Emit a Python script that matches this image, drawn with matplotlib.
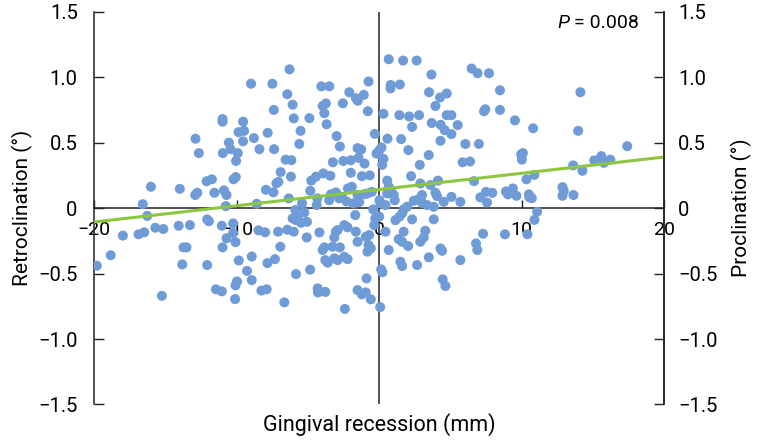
import numpy as np
import matplotlib
matplotlib.use("Agg")
import matplotlib.pyplot as plt

plt.rcParams['font.family'] = ['Roboto', 'DejaVu Sans']
plt.rcParams['axes.unicode_minus'] = True

# gingival recession (mm) vs incisor inclination change (deg)
recession = [
    -6.3, -9.0, -7.5, -6.45, -7.4, -11.0, -11.0, -9.56, -9.88, -9.49, -7.83, -12.9, -10.56, -8.8, -9.56,
    -10.44, -8.41, -7.38, -12.66, -10.98, -9.93, -10.05, -6.57, -6.17, -6.92, -10.07, -10.23, -11.75, -12.12,
    -7.22, -7.08, -16.03, -14.0, -12.77, -12.92, -11.57, -10.9, -10.72, -7.95, -7.43, -16.6, -10.77, -8.6,
    -6.35, -6.2, -16.29, -12.08, -11.96,
    -18.0, -16.9, -16.5, -15.72, -15.16, -14.08, -13.29, -11.05, -10.26, -10.26, -10.72, -10.09, -8.48, -8.01,
    -7.1, -6.45, -13.74, -13.53, -11.0, -6.94, -18.85, -8.95, -9.86, -7.32, -7.85, -19.83, -13.83, -12.08,
    -9.28, -8.95, -9.98, -10.09, -11.47, -11.05, -8.27, -7.9, -15.26, -10.12, -6.66,
    6.49, 6.91, 7.71, 8.48, 14.13, 7.36, 7.45, 8.48, 9.53, 10.81, 13.97, 7.0, 17.42, 6.38, 9.97, 10.09, 10.02,
    13.62, 14.27, 15.1, 15.6, 15.77, 16.23, 6.66, 10.34, 10.9, 7.5, 7.94, 7.1, 7.57, 8.9, 9.04, 9.39, 9.64,
    10.51, 10.55, 10.72, 12.87, 12.96, 12.87, 13.64, 11.09, 10.9, 10.41, 8.83, 7.29, 6.8, 6.89,
    -6.08, -6.0, -4.06, -3.5, -0.75, -3.97, -3.74, -3.85, -3.69, -4.9, -5.52, -5.61, -2.55, -2.1, -1.64, -1.5,
    -1.08, -0.8, -2.99, -2.76, -0.31, -1.52, -1.26, -0.19, -3.25, -2.52, -1.99, -1.45, -1.03,
    0.67, 1.68, 2.63, 3.67, 0.81, 0.79, 1.45, 3.5, 4.27, 4.74, 3.95, 0.3, 1.42, 2.1, 2.8, 4.74, 5.07, 3.69,
    4.32, 4.6, 5.07, 5.51, 2.31, 0.58, 1.54, 4.3, 6.05, 0.16, 0.02, 2.05, 3.48, 0.3, 5.86, 2.85,
    -1.99, -1.22, -0.66, -4.77, -4.44, -3.92, -3.43, -5.42, -4.35, -4.39, -3.51, -3.39, -3.04, -2.8, -2.62,
    -2.29, -2.2, -1.92, -1.82, -1.4, -1.52, -1.03, -0.82, -0.52, -0.42, -4.84,
    -5.89, -6.08, -5.73, -5.26, -5.07, -5.49, -5.84, -6.0, -5.09, -4.2, -3.04, -2.92, -3.15, -2.45, -2.22,
    -1.64, -1.68, -1.52, -0.94, -0.7, -0.35, -0.28, -0.75, -0.59, -0.82, -3.85, -3.97, -3.27, -2.76, -3.78,
    -3.62, -3.15, -2.92, -2.45, -2.22, -4.85,
    -5.84, -4.32, -4.3, -3.78, -2.41, -1.52, -1.22, -0.94, -0.89, -0.59, 0.07, 0.14, 0.23, 4.46, 4.65, 0.0,
    0.21, 2.24, 0.56, 0.67, 2.89, 3.6, 4.13, 0.56, 0.86, 1.02, 1.09, 0.02, 0.09, 0.44, 2.43, 2.73, 3.01, 3.01,
    3.95, 4.06, 3.36, 3.83, 4.53, 5.07, 5.7, 1.96, 1.72, 1.61, 1.42, 1.14, 2.31, 3.83, 0.44, 1.72, 3.24, 3.13,
    2.89, 1.37, 1.61, 2.03, 0.67, 4.3, 4.41, 3.48, 5.7, 1.49, 1.61, 2.66,
]
inclination = [
    1.06, 0.95, 0.95, 0.87, 0.75, 0.68, 0.66, 0.66, 0.58, 0.59, 0.575, 0.53, 0.50, 0.535, 0.51,
    0.45, 0.45, 0.45, 0.42, 0.42, 0.42, 0.36, 0.37, 0.366, 0.275, 0.237, 0.22, 0.22, 0.205,
    0.19, 0.20, 0.163, 0.147, 0.117, 0.10, 0.117, 0.135, 0.10, 0.14, 0.12, 0.03, 0.015, 0.033,
    0.074, 0.24, -0.06, -0.086, -0.10,
    -0.21, -0.20, -0.185, -0.15, -0.16, -0.135, -0.13, -0.135, -0.117, -0.19, -0.23, -0.26, -0.17, -0.185,
    -0.18, -0.165, -0.30, -0.30, -0.30, -0.295, -0.36, -0.37, -0.40, -0.39, -0.42, -0.44, -0.43, -0.435,
    -0.48, -0.55, -0.56, -0.59, -0.62, -0.636, -0.63, -0.62, -0.67, -0.695, -0.72,
    1.066, 1.03, 1.03, 0.90, 0.885, 0.74, 0.755, 0.75, 0.67, 0.61, 0.59, 0.49, 0.473, 0.356, 0.41, 0.42, 0.37,
    0.326, 0.285, 0.364, 0.397, 0.346, 0.37, 0.206, 0.22, 0.254, 0.124, 0.117, 0.082, 0.043, 0.127, 0.105,
    0.15, 0.094, 0.105, 0.082, 0.076, 0.16, 0.13, 0.094, 0.10, -0.028, -0.09, -0.20, -0.20, -0.196, -0.27, -0.32,
    0.79, 0.685, 0.93, 0.93, 0.967, 0.78, 0.80, 0.725, 0.64, 0.687, 0.59, 0.49, 0.80, 0.885, 0.84, 0.82,
    0.865, 0.74, 0.55, 0.47, 0.567, 0.458, 0.448, 0.417, 0.35, 0.36, 0.366, 0.384, 0.34,
    1.137, 1.127, 1.127, 1.02, 0.94, 0.914, 0.944, 0.885, 0.845, 0.875, 0.78, 0.72, 0.71, 0.70, 0.71, 0.71,
    0.71, 0.65, 0.636, 0.595, 0.565, 0.634, 0.62, 0.53, 0.527, 0.514, 0.49, 0.463, 0.443, 0.443, 0.405, 0.376,
    0.35, 0.33,
    0.27, 0.244, 0.25, 0.21, 0.24, 0.265, 0.247, 0.036, 0.074, 0.023, 0.06, 0.105, 0.12, 0.074, 0.086,
    0.05, 0.15, 0.163, 0.036, 0.046, 0.10, 0.107, 0.112, 0.124, -0.01, 0.132,
    -0.015, -0.079, -0.071, -0.033, -0.105, -0.112, -0.092, -0.18, -0.224, -0.186, -0.18, -0.168, -0.224,
    -0.13, -0.147, -0.18, -0.053, -0.257, -0.219, -0.206, -0.13, -0.079, -0.282, -0.308, -0.333, -0.30, -0.32,
    -0.295, -0.30, -0.397, -0.417, -0.384, -0.397, -0.372, -0.39, -0.47,
    -0.504, -0.613, -0.644, -0.64, -0.77, -0.626, -0.659, -0.644, -0.537, -0.697, -0.756, -0.468, -0.49,
    -0.544, -0.595, -0.065,
    0.33, 0.244, 0.21, 0.163, 0.188, 0.176, 0.21, 0.112, 0.124, 0.10, 0.06, 0.06, 0.036, 0.023, 0.056, 0.066,
    0.10, 0.04, 0.117, 0.092, 0.023, 0.01, 0.048, 0.086, 0.048, 0.01, -0.01, -0.04, -0.066, -0.092, -0.086,
    -0.086, -0.18, -0.18, -0.173, -0.224, -0.257, -0.237, -0.257, -0.29, -0.32, -0.308, -0.326, -0.376, -0.397,
    -0.41, -0.443, -0.435,
]

trend_intercept = 0.142
trend_slope = 0.0124
p_text = " = 0.008"

x_ticks = [-20, -10, 0, 10, 20]
x_labels = ["\u221220", "\u221210", "0", "10", "20"]
y_ticks = [-1.5, -1.0, -0.5, 0, 0.5, 1.0, 1.5]
y_labels = ["\u22121.5", "\u22121.0", "\u22120.5", "0", "0.5", "1.0", "1.5"]

dot_color = "#6f9bd6"
line_color = "#8dc63f"
ink = "#222222"

fig = plt.figure(figsize=(7.58, 4.40), dpi=100)
ax = fig.add_axes([0.1245, 0.0807, 0.7515, 0.8927])

ax.scatter(recession, inclination, s=52, color=dot_color, edgecolors="none", zorder=3)

fit_x = np.array([-20, 20])
ax.plot(fit_x, trend_intercept + trend_slope * fit_x, color=line_color, lw=2.2, zorder=4)

ax.set_xlim(-20, 20)
ax.set_ylim(-1.5, 1.5)

ax.spines["top"].set_visible(False)
ax.spines["bottom"].set_position(("data", 0))
for side in ["left", "right", "bottom"]:
    ax.spines[side].set_color(ink)
    ax.spines[side].set_linewidth(1.1)
ax.axvline(0, color=ink, lw=1.1, zorder=2)

ax.set_xticks(x_ticks)
ax.set_xticklabels(x_labels)
ax.tick_params(axis="x", direction="in", length=6, width=1, color=ink, pad=9, labelsize=14)

ax.set_yticks(y_ticks)
ax.set_yticklabels(y_labels)
ax.tick_params(axis="y", direction="in", length=7, width=1, color=ink, pad=12, labelsize=14.5)

ax2 = ax.twinx()
ax2.set_ylim(-1.5, 1.5)
ax2.set_yticks(y_ticks)
ax2.set_yticklabels(y_labels)
ax2.tick_params(axis="y", direction="in", length=7, width=1, color=ink, pad=10, labelsize=14.5)
for side in ["top", "bottom", "left"]:
    ax2.spines[side].set_visible(False)
ax2.spines["right"].set_color(ink)
ax2.spines["right"].set_linewidth(1.1)

ax.set_ylabel("Retroclination (\u00b0)", fontsize=15, labelpad=4)
ax2.set_ylabel("Proclination (\u00b0)", fontsize=15, labelpad=10)
ax.set_xlabel("Gingival recession (mm)", fontsize=15.5, va="center")
ax.xaxis.set_label_coords(0.5, -0.052)

ax.text(0.833, 0.97, "P", transform=ax.transAxes, fontsize=14, style="italic",
        ha="right", va="center")
ax.text(0.833, 0.97, p_text, transform=ax.transAxes, fontsize=14, ha="left", va="center")

fig.savefig("out.png", dpi=100)
